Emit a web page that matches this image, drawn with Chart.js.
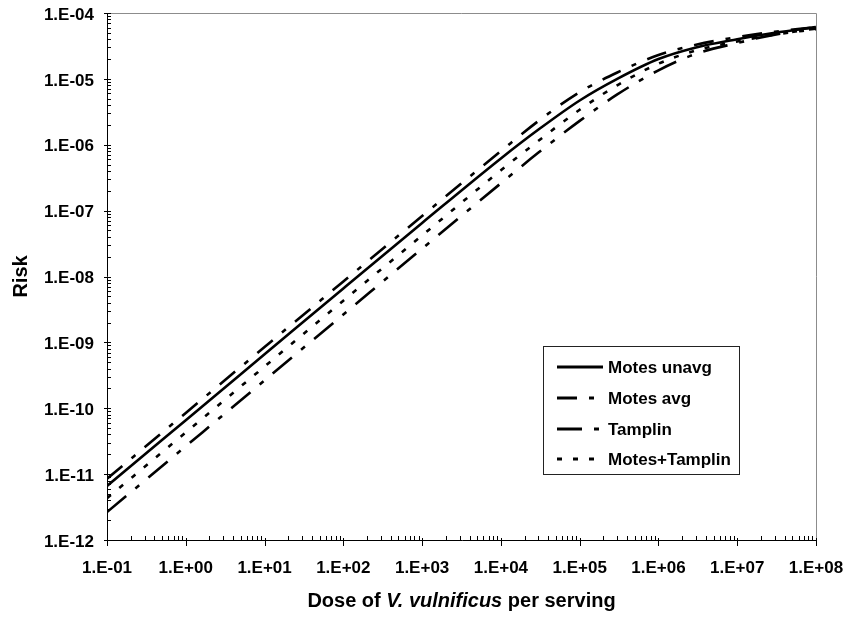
<!DOCTYPE html>
<html>
<head>
<meta charset="utf-8">
<script src="https://cdn.jsdelivr.net/npm/chart.js@4/dist/chart.umd.min.js"></script>
<style>
html,body{margin:0;padding:0;background:#fff;}
#wrap{width:850px;height:617px;}
</style>
</head>
<body>
<div id="wrap"><canvas id="c" width="850" height="617"></canvas></div>
<script>
// ---- data ----
const doses = [0.1, 1, 10, 100, 1000, 1e4, 3e4, 1e5, 3e5, 1e6, 3e6, 1e7, 3e7, 1e8];
const motesUnavg   = [6.6e-12, 6.6e-11, 6.6e-10, 6.6e-9, 6.5e-8, 6.2e-7, 1.7e-6, 4.7e-6, 1.0e-5, 2.0e-5, 3.0e-5, 4.0e-5, 5.0e-5, 6.1e-5];
const motesAvg     = [8.5e-12, 8.5e-11, 8.5e-10, 8.4e-9, 8.3e-8, 8.0e-7, 2.3e-6, 6.3e-6, 1.25e-5, 2.3e-5, 3.3e-5, 4.3e-5, 5.2e-5, 6.1e-5];
const tamplin      = [2.65e-12, 2.65e-11, 2.65e-10, 2.65e-9, 2.65e-8, 2.6e-7, 7.6e-7, 2.3e-6, 5.8e-6, 1.35e-5, 2.4e-5, 3.5e-5, 4.7e-5, 5.8e-5];
const motesTamplin = [4.3e-12, 4.3e-11, 4.3e-10, 4.3e-9, 4.2e-8, 4.1e-7, 1.15e-6, 3.4e-6, 8.0e-6, 1.7e-5, 2.7e-5, 3.7e-5, 4.7e-5, 5.7e-5];
const seriesNames = ['Motes unavg', 'Motes avg', 'Tamplin', 'Motes+Tamplin'];
const xTickValues = [1e-1, 1e0, 1e1, 1e2, 1e3, 1e4, 1e5, 1e6, 1e7, 1e8];
const yTickValues = [1e-12, 1e-11, 1e-10, 1e-9, 1e-8, 1e-7, 1e-6, 1e-5, 1e-4];
const xTitleParts = ['Dose of ', 'V. vulnificus', ' per serving'];
const yTitle = 'Risk';

const FONT = '"Liberation Sans", Arial, Helvetica, sans-serif';
const dashes = [[], [20, 12, 5, 12], [25, 12, 5, 12], [5, 11]];
const seriesData = [motesUnavg, motesAvg, tamplin, motesTamplin];

function fmtExp(v) {
  const e = Math.round(Math.log10(v));
  const s = e < 0 ? '-' : '+';
  const a = Math.abs(e);
  return '1.E' + s + (a < 10 ? '0' : '') + a;
}

const datasets = seriesData.map((arr, i) => ({
  label: seriesNames[i],
  data: doses.map((d, j) => ({x: d, y: arr[j]})),
  borderColor: '#000',
  backgroundColor: '#000',
  borderWidth: 2.6,
  borderDash: dashes[i],
  borderCapStyle: 'butt',
  pointRadius: 0,
  fill: false,
  cubicInterpolationMode: 'monotone'
}));

const decorPlugin = {
  id: 'decor',
  beforeDatasetsDraw(chart) {
    const ctx = chart.ctx, a = chart.chartArea;
    ctx.save();
    ctx.strokeStyle = '#8c8c8c';
    ctx.lineWidth = 1;
    ctx.beginPath();
    ctx.moveTo(a.left, a.top + 0.5);
    ctx.lineTo(a.right + 0.5, a.top + 0.5);
    ctx.lineTo(a.right + 0.5, a.bottom);
    ctx.stroke();
    ctx.restore();
  },
  afterDraw(chart) {
    const ctx = chart.ctx, a = chart.chartArea;
    const xs = chart.scales.x, ys = chart.scales.y;
    ctx.save();
    ctx.strokeStyle = '#000';
    ctx.lineWidth = 1;
    ctx.beginPath();
    // axes
    ctx.moveTo(a.left + 0.5, a.top);
    ctx.lineTo(a.left + 0.5, a.bottom + 0.5);
    ctx.lineTo(a.right + 1, a.bottom + 0.5);
    // x ticks
    for (let e = -1; e <= 8; e++) {
      const base = Math.pow(10, e);
      const px = Math.round(xs.getPixelForValue(base)) + 0.5;
      ctx.moveTo(px, a.bottom - 2);
      ctx.lineTo(px, a.bottom + 6);
      if (e < 8) {
        for (let m = 2; m <= 9; m++) {
          const p = Math.round(xs.getPixelForValue(base * m)) + 0.5;
          ctx.moveTo(p, a.bottom - 4);
          ctx.lineTo(p, a.bottom);
        }
      }
    }
    // y ticks
    for (let e = -12; e <= -4; e++) {
      const base = Math.pow(10, e);
      const py = Math.round(ys.getPixelForValue(base)) + 0.5;
      ctx.moveTo(a.left - 3, py);
      ctx.lineTo(a.left + 4, py);
      if (e < -4) {
        for (let m = 2; m <= 9; m++) {
          const p = Math.round(ys.getPixelForValue(base * m)) + 0.5;
          ctx.moveTo(a.left, p);
          ctx.lineTo(a.left + 4, p);
        }
      }
    }
    ctx.stroke();

    // axis titles
    ctx.fillStyle = '#000';
    ctx.textBaseline = 'alphabetic';
    const fonts = ['bold 20px ' + FONT, 'italic bold 20px ' + FONT, 'bold 20px ' + FONT];
    let widths = xTitleParts.map((t, i) => { ctx.font = fonts[i]; return ctx.measureText(t).width; });
    const total = widths.reduce((s, w) => s + w, 0);
    let tx = (a.left + a.right) / 2 - total / 2;
    xTitleParts.forEach((t, i) => {
      ctx.font = fonts[i];
      ctx.textAlign = 'left';
      ctx.fillText(t, tx, 607);
      tx += widths[i];
    });
    ctx.save();
    ctx.translate(27, (a.top + a.bottom) / 2);
    ctx.rotate(-Math.PI / 2);
    ctx.font = 'bold 20px ' + FONT;
    ctx.textAlign = 'center';
    ctx.fillText(yTitle, 0, 0);
    ctx.restore();

    // legend
    const lx = 543.5, ly = 346.5, lw = 196, lh = 128;
    ctx.fillStyle = '#fff';
    ctx.fillRect(lx, ly, lw, lh);
    ctx.strokeStyle = '#222';
    ctx.lineWidth = 1;
    ctx.strokeRect(lx, ly, lw, lh);
    const rows = [367, 398, 429, 459];
    chart.data.datasets.forEach((ds, i) => {
      const y = rows[i];
      ctx.save();
      ctx.strokeStyle = '#000';
      ctx.lineWidth = 3;
      ctx.lineCap = 'butt';
      ctx.setLineDash(ds.borderDash || []);
      ctx.beginPath();
      ctx.moveTo(557, y);
      ctx.lineTo(603, y);
      ctx.stroke();
      ctx.restore();
      ctx.fillStyle = '#000';
      ctx.font = 'bold 17px ' + FONT;
      ctx.textAlign = 'left';
      ctx.textBaseline = 'middle';
      ctx.fillText(ds.label, 608, y + 1);
    });
    ctx.restore();
  }
};

new Chart(document.getElementById('c'), {
  type: 'line',
  data: {datasets},
  options: {
    responsive: false,
    devicePixelRatio: 1,
    animation: false,
    parsing: true,
    layout: {padding: {top: 13, right: 34, left: 0, bottom: 0}},
    plugins: {legend: {display: false}, tooltip: {enabled: false}, title: {display: false}},
    scales: {
      x: {
        type: 'logarithmic',
        min: 0.1, max: 1e8,
        afterBuildTicks: s => { s.ticks = xTickValues.map(v => ({value: v})); },
        afterFit: s => { s.height = 77; s.paddingLeft = 0; s.paddingRight = 0; },
        grid: {display: false, drawTicks: false},
        border: {display: false},
        ticks: {
          autoSkip: false, maxRotation: 0, minRotation: 0, padding: 18,
          color: '#000', font: {family: FONT, size: 17, weight: 'bold'},
          callback: v => fmtExp(v)
        }
      },
      y: {
        type: 'logarithmic',
        min: 1e-12, max: 1e-4,
        afterBuildTicks: s => { s.ticks = yTickValues.map(v => ({value: v})); },
        afterFit: s => { s.width = 107; s.paddingTop = 0; s.paddingBottom = 0; },
        grid: {display: false, drawTicks: false},
        border: {display: false},
        ticks: {
          autoSkip: false, padding: 13, labelOffset: 2,
          color: '#000', font: {family: FONT, size: 17, weight: 'bold'},
          callback: v => fmtExp(v)
        }
      }
    }
  },
  plugins: [decorPlugin]
});
</script>
</body>
</html>
